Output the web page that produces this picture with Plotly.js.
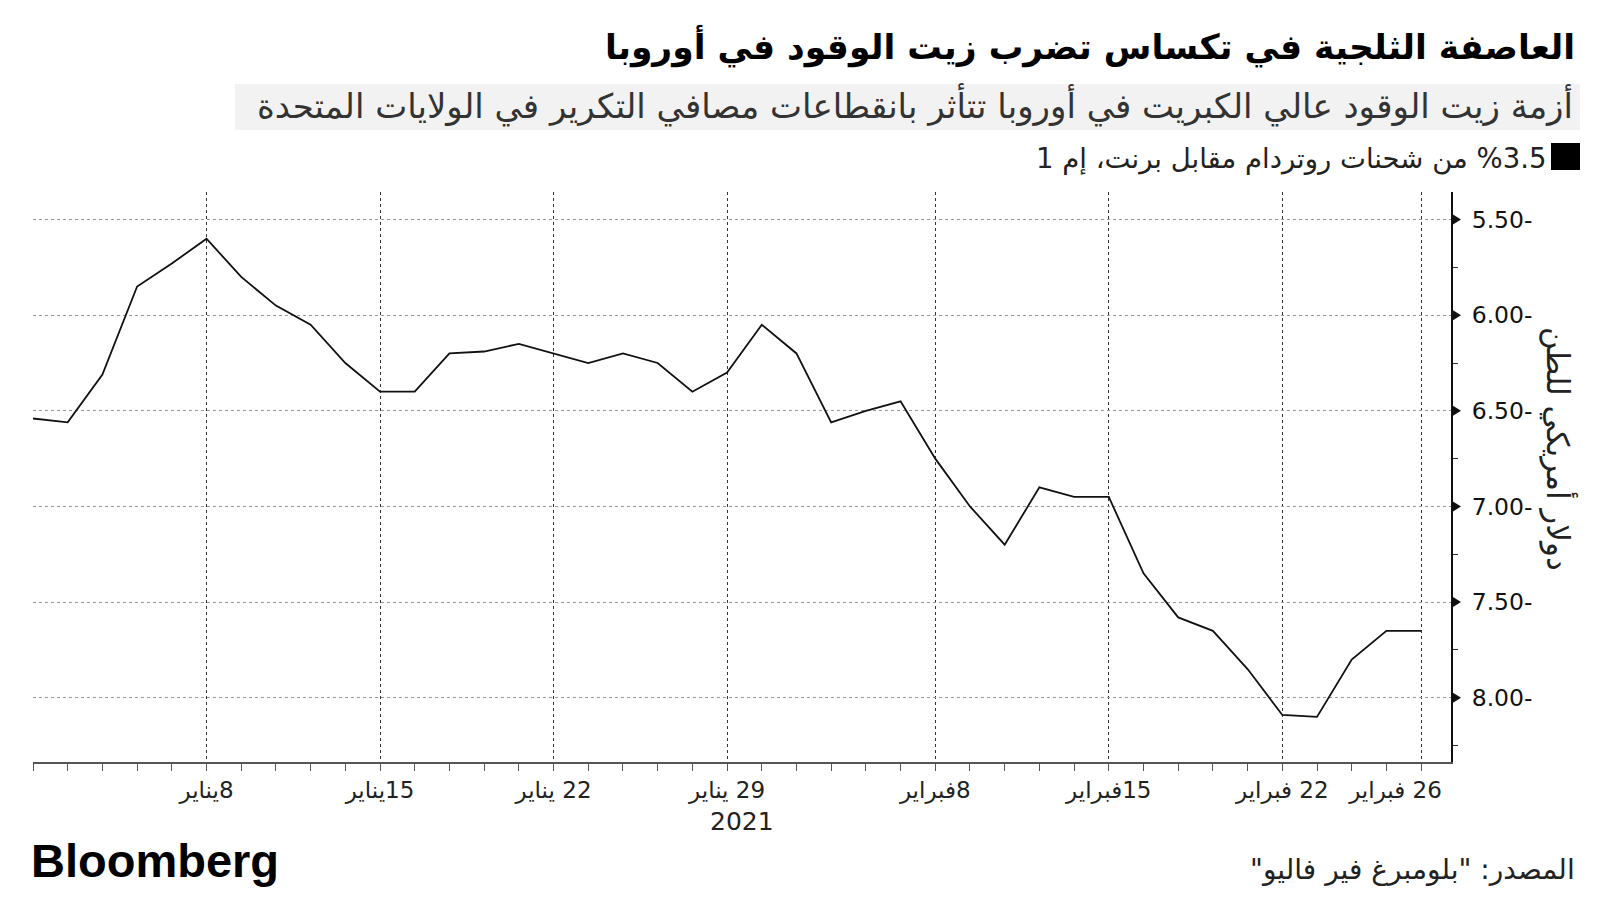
<!DOCTYPE html>
<html>
<head>
<meta charset="utf-8">
<script src="https://cdn.plot.ly/plotly-3.0.1.min.js"></script>
<style>
  html, body { margin: 0; padding: 0; background: #ffffff; }
  #chart { width: 1600px; height: 900px; }
</style>
</head>
<body>
<div id="chart"></div>
<script>
// ---------- DATA ----------
const dates = [
  "2021-01-01","2021-01-04","2021-01-05","2021-01-06","2021-01-07","2021-01-08",
  "2021-01-11","2021-01-12","2021-01-13","2021-01-14","2021-01-15",
  "2021-01-18","2021-01-19","2021-01-20","2021-01-21","2021-01-22",
  "2021-01-25","2021-01-26","2021-01-27","2021-01-28","2021-01-29",
  "2021-02-01","2021-02-02","2021-02-03","2021-02-04","2021-02-05",
  "2021-02-08","2021-02-09","2021-02-10","2021-02-11","2021-02-12",
  "2021-02-15","2021-02-16","2021-02-17","2021-02-18","2021-02-19",
  "2021-02-22","2021-02-23","2021-02-24","2021-02-25","2021-02-26"
];
const spread = [
  -6.54, -6.56, -6.31, -5.85, -5.73, -5.60,
  -5.80, -5.95, -6.05, -6.25, -6.40,
  -6.40, -6.20, -6.19, -6.15, -6.20,
  -6.25, -6.20, -6.25, -6.40, -6.30,
  -6.05, -6.20, -6.56, -6.50, -6.45,
  -6.75, -7.00, -7.20, -6.90, -6.95,
  -6.95, -7.35, -7.58, -7.65, -7.85,
  -8.09, -8.10, -7.80, -7.65, -7.65
];
const xTickVals = ["2021-01-08","2021-01-15","2021-01-22","2021-01-29","2021-02-08","2021-02-15","2021-02-22","2021-02-26"];
const xTickText = ["8يناير","15يناير","22 يناير","29 يناير","8فبراير","15فبراير","22 فبراير","26 فبراير"];
const yTickVals = [-5.5, -6.0, -6.5, -7.0, -7.5, -8.0];
const yTickText = ["5.50-","6.00-","6.50-","7.00-","7.50-","8.00-"];

const titleText = "العاصفة الثلجية في تكساس تضرب زيت الوقود في أوروبا";
const subtitleText = "أزمة زيت الوقود عالي الكبريت في أوروبا تتأثر بانقطاعات مصافي التكرير في الولايات المتحدة";
const seriesName = "%3.5 من شحنات روتردام مقابل برنت، إم 1";
const yTitleText = "دولار أمريكي للطن";
const sourceText = "المصدر: \"بلومبرغ فير فاليو\"";
const yearText = "2021";
const brandText = "Bloomberg";

// ---------- HELPERS ----------
const RLE = "\u202B", PDF = "\u202C";
const rtl = s => RLE + s + PDF;
const AR = "'DejaVu Sans', 'Noto Sans Arabic', sans-serif";

// plot geometry (pixels)
const W = 1600, H = 900;
const M = {l: 33, r: 149, t: 192, b: 138};
const PW = W - M.l - M.r, PH = H - M.t - M.b;
const px = x => (x - M.l) / PW;          // pixel -> paper x
const py = y => (H - M.b - y) / PH;      // pixel -> paper y
const yMin = -8.336, yMax = -5.356;
const vToPaper = v => (v - yMin) / (yMax - yMin);

// triangle tick markers on the right axis (paper coords, derived from tick values)
const triShapes = yTickVals.map(v => {
  const x0 = 1 + 2 / PW, x1 = 1 + 10 / PW, dy = 5 / PH, yc = vToPaper(v);
  return {
    type: "path", xref: "paper", yref: "paper",
    path: `M ${x0} ${yc - dy} L ${x1} ${yc} L ${x0} ${yc + dy} Z`,
    fillcolor: "#111", line: {width: 0}
  };
});

// the last date label is nudged left (kept inside the plot, as in the original)
const NBSP = "\u00A0";
const tickLabels = xTickText.map((t, i) =>
  rtl((i === xTickText.length - 1 ? NBSP.repeat(7) : "") + t));

const trace = {
  x: dates, y: spread, type: "scatter", mode: "lines",
  line: {color: "#111111", width: 1.8},
  name: seriesName, hoverinfo: "x+y", showlegend: false
};

const layout = {
  width: W, height: H,
  margin: M,
  paper_bgcolor: "#ffffff", plot_bgcolor: "#ffffff",
  showlegend: false,
  font: {family: AR, color: "#222"},
  xaxis: {
    type: "date",
    range: ["2021-01-01", "2021-02-26 20:40"],
    rangebreaks: [{bounds: ["sat", "mon"]}],
    tickmode: "array", tickvals: xTickVals, ticktext: tickLabels,
    tickfont: {family: AR, size: 23, color: "#222"},
    ticks: "outside", ticklen: 7, tickcolor: "#555", tickwidth: 1,
    minor: {tickmode: "array", tickvals: dates, ticks: "outside", ticklen: 7, tickcolor: "#555", tickwidth: 1, showgrid: false},
    showgrid: true, gridcolor: "#333", griddash: "dot", gridwidth: 1,
    showline: true, linecolor: "#555", linewidth: 1.5,
    zeroline: false, fixedrange: true
  },
  yaxis: {
    side: "right",
    range: [yMin, yMax],
    tickmode: "array", tickvals: yTickVals, ticktext: yTickText,
    tickfont: {family: "'DejaVu Sans', sans-serif", size: 23.5, color: "#111"},
    ticks: "outside", ticklen: 14, tickcolor: "rgba(0,0,0,0)",
    minor: {dtick: 0.25, tick0: 0, ticks: "outside", ticklen: 5, tickcolor: "#333", tickwidth: 1, showgrid: false},
    showgrid: true, gridcolor: "#999", griddash: "dot", gridwidth: 1,
    showline: true, linecolor: "#111", linewidth: 2,
    zeroline: false, fixedrange: true
  },
  shapes: [
    {type: "rect", xref: "paper", yref: "paper", x0: px(235), x1: px(1580), y0: py(130), y1: py(84),
     fillcolor: "#f2f2f2", line: {width: 0}, layer: "below"},
    {type: "rect", xref: "paper", yref: "paper", x0: px(1551), x1: px(1580), y0: py(170), y1: py(143),
     fillcolor: "#000", line: {width: 0}},
    ...triShapes
  ],
  annotations: [
    {text: "<b>" + rtl(titleText) + "</b>", xref: "paper", yref: "paper", x: px(1577), y: py(46),
     xanchor: "right", yanchor: "middle", showarrow: false, font: {family: AR, size: 34.5, color: "#000"}},
    {text: rtl(subtitleText), xref: "paper", yref: "paper", x: px(1575), y: py(105),
     xanchor: "right", yanchor: "middle", showarrow: false, font: {family: AR, size: 34, color: "#333"}},
    {text: rtl(seriesName), xref: "paper", yref: "paper", x: px(1548), y: py(158),
     xanchor: "right", yanchor: "middle", showarrow: false, font: {family: AR, size: 27.5, color: "#222"}},
    {text: rtl(yTitleText), xref: "paper", yref: "paper", x: px(1559), y: py(449), textangle: 90,
     xanchor: "center", yanchor: "middle", showarrow: false, font: {family: AR, size: 31, color: "#222"}},
    {text: yearText, xref: "paper", yref: "paper", x: 0.5, y: py(822),
     xanchor: "center", yanchor: "middle", showarrow: false, font: {family: AR, size: 25, color: "#222"}},
    {text: rtl(sourceText), xref: "paper", yref: "paper", x: px(1577), y: py(869),
     xanchor: "right", yanchor: "middle", showarrow: false, font: {family: AR, size: 28, color: "#222"}},
    {text: "<b>" + brandText + "</b>", xref: "paper", yref: "paper", x: px(29), y: py(860),
     xanchor: "left", yanchor: "middle", showarrow: false,
     font: {family: "'Liberation Sans', Arial, sans-serif", size: 47, color: "#000"}}
  ]
};

Plotly.newPlot("chart", [trace], layout, {displayModeBar: false, staticPlot: true});
</script>
</body>
</html>
